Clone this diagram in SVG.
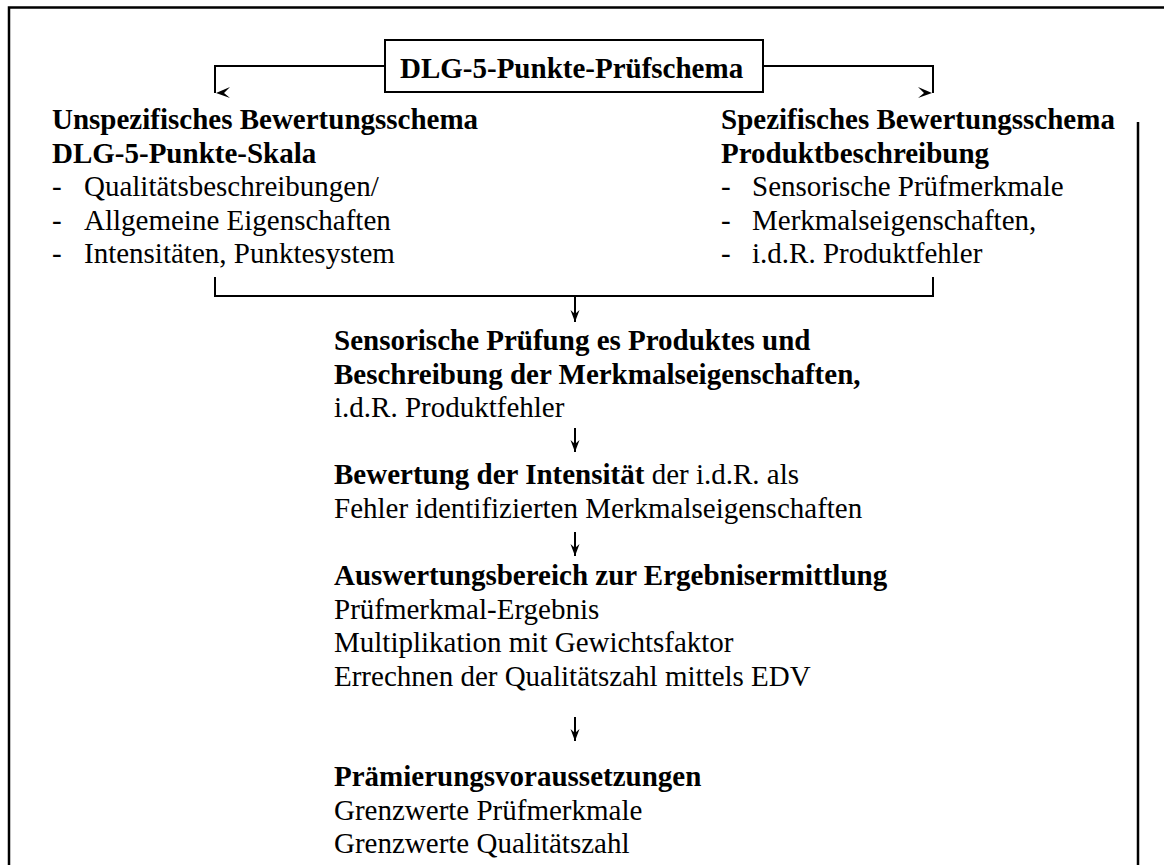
<svg xmlns="http://www.w3.org/2000/svg" width="1164" height="865" viewBox="0 0 1164 865">
<style>
text{font-family:"Liberation Serif","Times New Roman",serif;font-size:29px;fill:#000}
.b{font-weight:bold}
.ln{stroke:#000;stroke-width:2;fill:none}
.frame{stroke:#000;stroke-width:2.5;fill:none}
</style>
<defs>
<marker id="ah" markerWidth="14" markerHeight="12" refX="13" refY="6" orient="auto" markerUnits="userSpaceOnUse" viewBox="0 0 14 12">
<path d="M1,1.5 L13,6 L1,10.5 L5,6 Z" fill="#000"/>
</marker>
</defs>
<rect width="1164" height="865" fill="#fff"/>
<path class="frame" d="M9,865 V7.5 H1164"/>
<path class="frame" d="M1138,122 V865"/>
<g id="connectors">
<path class="ln" d="M385,66 H215 V93"/>
<path d="M216,93 L230,87 L224,93 L230,98 Z" fill="#000"/>
<path class="ln" d="M763,66 H933 V93"/>
<path d="M932,93 L918,87 L924,93 L918,98 Z" fill="#000"/>
<path class="ln" d="M215,277 V296 H933 V277"/>
<path class="ln" d="M575,296 V322" marker-end="url(#ah)"/>
<path class="ln" d="M575,428 V452" marker-end="url(#ah)"/>
<path class="ln" d="M575,532 V556" marker-end="url(#ah)"/>
<path class="ln" d="M575,717 V741" marker-end="url(#ah)"/>
</g>
<g id="title">
<rect class="ln" x="385" y="40" width="378" height="52"/>
<text class="b" x="400" y="78">DLG-5-Punkte-Prüfschema</text>
</g>
<g id="left">
<text class="b" x="52" y="129">Unspezifisches Bewertungsschema</text>
<text class="b" x="52" y="162.5">DLG-5-Punkte-Skala</text>
<text x="52" y="196">-</text><text x="84" y="196">Qualitätsbeschreibungen/</text>
<text x="52" y="229.5">-</text><text x="84" y="229.5">Allgemeine Eigenschaften</text>
<text x="52" y="263">-</text><text x="84" y="263">Intensitäten, Punktesystem</text>
</g>
<g id="right">
<text class="b" x="721" y="129">Spezifisches Bewertungsschema</text>
<text class="b" x="721" y="162.5">Produktbeschreibung</text>
<text x="721" y="196">-</text><text x="752" y="196">Sensorische Prüfmerkmale</text>
<text x="721" y="229.5">-</text><text x="752" y="229.5">Merkmalseigenschaften,</text>
<text x="721" y="263">-</text><text x="752" y="263">i.d.R. Produktfehler</text>
</g>
<g id="pruefung">
<text class="b" x="334" y="350">Sensorische Prüfung es Produktes und</text>
<text class="b" x="334" y="383.5">Beschreibung der Merkmalseigenschaften,</text>
<text x="334" y="417">i.d.R. Produktfehler</text>
</g>
<g id="bewertung">
<text x="334" y="484"><tspan class="b">Bewertung der Intensität</tspan> der i.d.R. als</text>
<text x="334" y="517.5">Fehler identifizierten Merkmalseigenschaften</text>
</g>
<g id="auswertung">
<text class="b" x="334" y="585">Auswertungsbereich zur Ergebnisermittlung</text>
<text x="334" y="618.5">Prüfmerkmal-Ergebnis</text>
<text x="334" y="652">Multiplikation mit Gewichtsfaktor</text>
<text x="334" y="685.5">Errechnen der Qualitätszahl mittels EDV</text>
</g>
<g id="praemierung">
<text class="b" x="334" y="786">Prämierungsvoraussetzungen</text>
<text x="334" y="819.5">Grenzwerte Prüfmerkmale</text>
<text x="334" y="853">Grenzwerte Qualitätszahl</text>
</g>
</svg>
